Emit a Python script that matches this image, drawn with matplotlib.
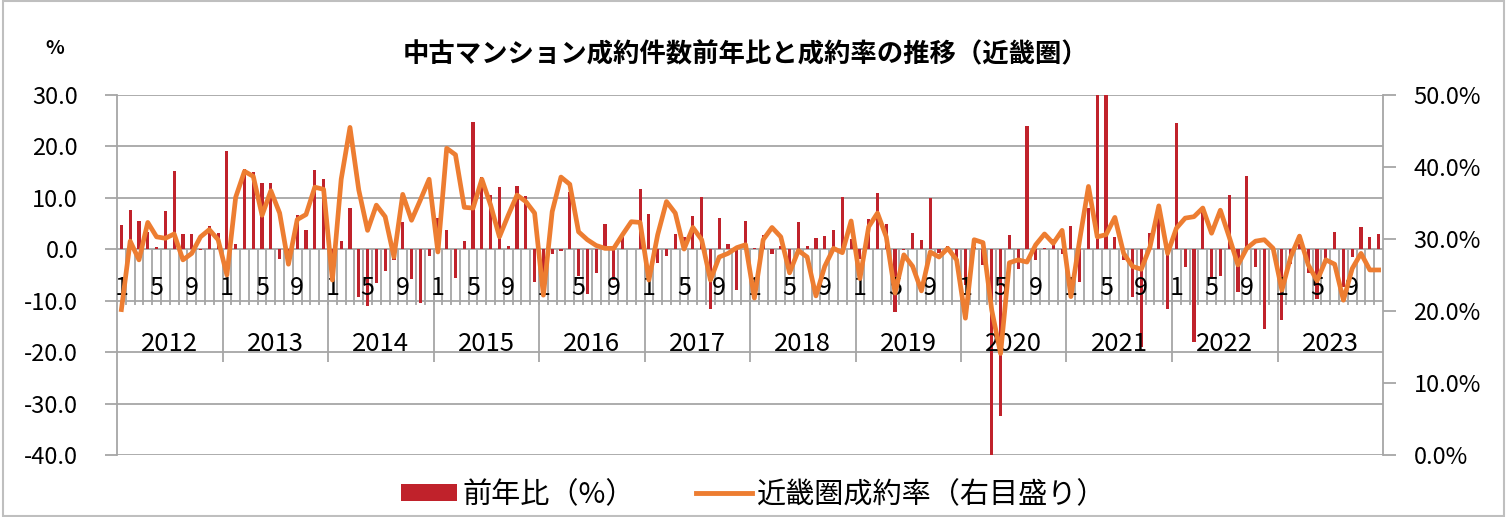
import numpy as np
import matplotlib
matplotlib.use('Agg')
import matplotlib.pyplot as plt
from matplotlib.patches import Patch, Rectangle
from matplotlib.lines import Line2D
from matplotlib.ticker import FuncFormatter

plt.rcParams['font.family'] = ['Noto Sans CJK JP', 'DejaVu Sans']

# data
years = [2012, 2013, 2014, 2015, 2016, 2017, 2018, 2019, 2020, 2021, 2022, 2023]
month_labels = {0: '1', 4: '5', 8: '9'}

# 前年比 (%)
yoy = [4.8, 7.7, 5.5, 3.3, 0.5, 7.5, 15.3, 2.9, 2.9, -0.2, 4.5, 3.2,
       19.1, 1.0, 15.7, 15.0, 12.9, 12.8, -1.8, -2.0, 6.6, 3.7, 15.5, 13.6,
       -1.0, 1.6, 8.1, -9.3, -11.1, -6.6, -4.2, -2.0, 5.3, -5.7, -10.4, -1.4,
       6.0, 3.7, -5.5, 1.6, 24.7, 14.0, 10.5, 12.1, 0.6, 12.4, 10.3, -6.4,
       -6.0, -1.0, -0.3, 11.2, -5.1, -8.6, -4.7, 5.0, -6.0, 2.4, 0.1, 11.8,
       6.9, -2.7, -1.3, 3.0, 2.4, 6.4, 10.1, -11.6, 6.1, 1.1, -8.0, 5.5,
       0.3, 2.7, -1.0, 0.6, -3.5, 5.3, 0.6, 2.1, 2.5, 3.7, 10.2, 2.0,
       -1.8, 5.8, 11.0, 4.9, -12.2, -0.2, 3.1, 1.9, 10.0, -0.8, 0.6, -2.5,
       -7.0, 0.5, -3.1, -40.8, -32.4, 2.7, -3.8, 24.0, -2.1, 0.3, 2.0, -1.0,
       4.5, -6.4, 8.1, 45.0, 40.0, 2.4, -2.0, -9.3, -19.0, 3.2, 8.6, -11.6,
       24.5, -3.4, -18.0, 8.1, -5.7, -5.1, 10.5, -8.3, 14.2, -3.4, -15.5, 0.3,
       -13.7, -2.8, 1.0, -4.7, -9.6, -1.8, 3.4, -7.3, -1.5, 4.4, 2.3, 2.9]

# 近畿圏成約率 (%)
rate = [20.2, 29.7, 27.1, 32.3, 30.3, 30.1, 30.7, 27.1, 28.0, 30.3, 31.3, 29.9,
        25.0, 35.8, 39.4, 38.7, 33.3, 36.7, 33.6, 26.5, 32.7, 33.4, 37.2, 36.9,
        24.3, 38.3, 45.5, 36.8, 31.2, 34.7, 33.1, 27.5, 36.2, 32.6, 35.4, 38.3,
        28.2, 42.6, 41.7, 34.4, 34.3, 38.3, 34.7, 30.3, 33.3, 36.1, 35.2, 33.6,
        22.2, 33.8, 38.6, 37.6, 31.0, 29.9, 29.1, 28.7, 28.7, 30.6, 32.4, 32.3,
        24.3, 30.6, 35.2, 33.6, 28.6, 31.6, 29.9, 24.3, 27.5, 28.0, 28.8, 29.2,
        21.8, 29.9, 31.6, 30.3, 25.3, 28.4, 27.5, 22.1, 26.2, 28.7, 28.1, 32.5,
        24.5, 31.7, 33.6, 30.3, 22.5, 27.8, 26.2, 22.8, 28.2, 27.5, 28.7, 27.1,
        19.0, 29.9, 29.5, 20.1, 14.1, 26.7, 27.1, 26.8, 29.2, 30.7, 29.4, 31.2,
        22.0, 29.9, 37.3, 30.3, 30.6, 33.0, 28.0, 26.2, 25.8, 28.9, 34.6, 28.0,
        31.5, 32.9, 33.1, 34.3, 30.8, 34.0, 30.3, 26.4, 28.7, 29.7, 29.9, 28.7,
        22.9, 27.5, 30.4, 26.4, 24.2, 27.1, 26.5, 21.5, 25.9, 28.0, 25.7, 25.7]

n = len(yoy)
x = np.arange(n) + 0.5

grid = '#A6A6A6'
red = '#C0222B'
orange = '#ED7D31'

W, H = 1507, 517
fig = plt.figure(figsize=(W / 100, H / 100), dpi=100)
L, R, T, B = 117, 1383, 95, 455
ax = fig.add_axes([L / W, 1 - B / H, (R - L) / W, (B - T) / H])

ax.set_xlim(0, n)
ax.set_ylim(-40, 30)
ax.set_yticks(np.arange(-40, 31, 10))
ax.yaxis.set_major_formatter(FuncFormatter(lambda v, p: f'{v:.1f}'))
ax.grid(axis='y', color=grid, lw=1.3)
ax.set_axisbelow(True)
ax.set_xticks([])
for s in ['top', 'bottom', 'right']:
    ax.spines[s].set_visible(False)
ax.spines['left'].set_color(grid)
ax.spines['left'].set_linewidth(1.3)
ax.tick_params(axis='y', length=9, width=1.3, color=grid, labelsize=17, pad=19)

ax.bar(x, yoy, width=0.36, color=red, zorder=2)

# two level category axis crossing at 0
ax.vlines(np.arange(1, n), -10.9, 0, color=grid, lw=1.3, zorder=1)
ax.vlines(np.arange(12, n, 12), -21.9, 0, color=grid, lw=1.3, zorder=1)
for i in range(n):
    if i % 12 in month_labels:
        ax.text(x[i], -7.6, month_labels[i % 12], ha='center', va='center', fontsize=18)
for j, yr in enumerate(years):
    ax.text(12 * j + 6, -18.5, str(yr), ha='center', va='center', fontsize=18.5)

ax2 = ax.twinx()
ax2.set_ylim(0, 50)
ax2.set_yticks(np.arange(0, 51, 10))
ax2.yaxis.set_major_formatter(FuncFormatter(lambda v, p: f'{v:.1f}%'))
for s in ['top', 'bottom', 'left']:
    ax2.spines[s].set_visible(False)
ax2.spines['right'].set_color(grid)
ax2.spines['right'].set_linewidth(1.3)
ax2.tick_params(axis='y', length=9, width=1.3, color=grid, labelsize=17, pad=13)
ax2.plot(x, rate, color=orange, lw=3.4, solid_joinstyle='round')

fig.text(746 / W, 1 - 55 / H, '中古マンション成約件数前年比と成約率の推移（近畿圏）',
         ha='center', va='center', fontsize=19, fontweight='bold')
fig.text(55 / W, 1 - 48 / H, '%', ha='center', va='center', fontsize=14, fontweight='bold')

handles = [Patch(facecolor=red), Line2D([], [], color=orange, lw=3.5)]
fig.legend(handles, ['前年比（%）', '近畿圏成約率（右目盛り）'], loc='center',
           bbox_to_anchor=(754 / W, 1 - 495 / H), ncol=2, frameon=False, fontsize=21,
           handlelength=1.9, handleheight=0.55, handletextpad=0.2, columnspacing=2.1)

fig.add_artist(Rectangle((0.002, 0.002), 0.996, 0.996, transform=fig.transFigure,
                         fill=False, edgecolor='#BFBFBF', lw=1.5))

fig.savefig('out.png', dpi=100)
